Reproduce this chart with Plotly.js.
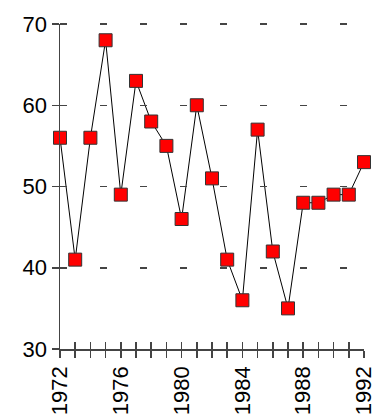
<!DOCTYPE html>
<html>
<head>
<meta charset="utf-8">
<script src="https://cdn.plot.ly/plotly-3.0.1.min.js"></script>
<style>html,body{margin:0;padding:0;background:#fff;}#chart{width:376px;height:417px;}</style>
</head>
<body>
<div id="chart"></div>
<script>
var years = [1972,1973,1974,1975,1976,1977,1978,1979,1980,1981,1982,1983,1984,1985,1986,1987,1988,1989,1990,1991,1992];
var values = [56,41,56,68,49,63,58,55,46,60,51,41,36,57,42,35,48,48,49,49,53];
var xLabelYears = [1972,1976,1980,1984,1988,1992];
var yTickVals = [30,40,50,60,70];

var axisColor = '#444';
var fontSpec = {family: 'Liberation Sans, Arial, sans-serif', size: 22, color: '#000'};
var xTickText = years.map(function(y){ return xLabelYears.indexOf(y) >= 0 ? String(y) : ''; });
var xRange = [1972, 1992];
var yRange = [30, 70];
// helper subplot is 2px taller so the top dashed gridline is not clipped at the edge
var plotH = 417 - 22 - 68;
var mainTop = (plotH - 2) / plotH;
var yRange2 = [30, 70 + 40 * 2 / (plotH - 2)];

var traces = [
  {x: [years[0]], y: [values[0]], xaxis: 'x2', yaxis: 'y2', mode: 'markers', marker: {opacity: 0}, showlegend: false, hoverinfo: 'none'},
  {
    x: years, y: values, type: 'scatter', mode: 'lines+markers',
    line: {color: '#000', width: 1},
    marker: {symbol: 'square', size: 13, color: '#ff0000', line: {color: '#333', width: 1}},
    cliponaxis: false, showlegend: false, hoverinfo: 'none'
  }
];

var layout = {
  width: 376, height: 417,
  margin: {l: 60, r: 12, t: 22, b: 68},
  paper_bgcolor: '#fff', plot_bgcolor: 'rgba(0,0,0,0)',
  font: fontSpec,
  showlegend: false,
  xaxis: {
    domain: [0, 1], anchor: 'y',
    range: xRange, showgrid: false, zeroline: false,
    showline: true, linecolor: axisColor, linewidth: 1.5,
    ticks: 'outside', ticklen: 7, tickwidth: 1.5, tickcolor: axisColor,
    tickmode: 'array', tickvals: years, ticktext: xTickText,
    tickfont: fontSpec, tickangle: -90, ticklabeloverflow: 'allow'
  },
  yaxis: {
    domain: [0, mainTop], anchor: 'x',
    range: yRange, zeroline: false, showgrid: false,
    showline: true, linecolor: axisColor, linewidth: 1.5,
    ticks: 'outside', ticklen: 7, tickwidth: 1.5, tickcolor: axisColor,
    tickvals: yTickVals, tickfont: fontSpec
  },
  xaxis2: {
    domain: [0, 1], anchor: 'y2',
    range: xRange, showgrid: false, zeroline: false,
    showline: false, ticks: 'inside', ticklen: 7, tickwidth: 1.5, tickcolor: axisColor,
    tickmode: 'array', tickvals: years, showticklabels: false
  },
  yaxis2: {
    domain: [0, 1], anchor: 'x2',
    range: yRange2, zeroline: false,
    showline: false, ticks: '', showticklabels: false, tickvals: yTickVals,
    showgrid: true, gridcolor: axisColor, gridwidth: 1.5, griddash: '7px,33px'
  }
};

Plotly.newPlot('chart', traces, layout, {staticPlot: true, displayModeBar: false});
</script>
</body>
</html>
